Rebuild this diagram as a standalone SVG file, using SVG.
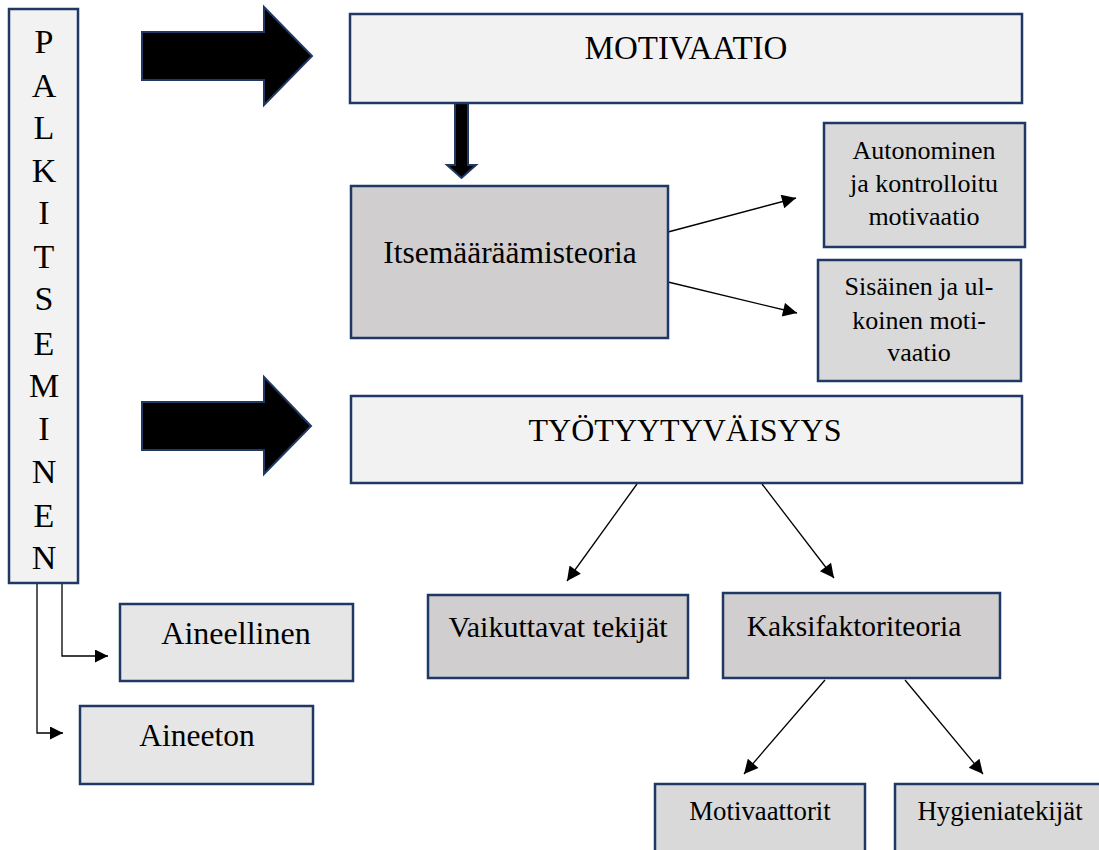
<svg xmlns="http://www.w3.org/2000/svg" width="1099" height="850" viewBox="0 0 1099 850">
<style>
.box{stroke:#1f3864;stroke-width:2.5}
.l1{fill:#f2f2f2}
.g1{fill:#d0cece}
.g2{fill:#d9d9d9}
.g3{fill:#e6e6e6}
text{font-family:"Liberation Serif","Times New Roman",serif;fill:#000;text-anchor:middle}
.big{stroke:#1f3864;stroke-width:2;fill:#000}
.con{stroke:#000;stroke-width:1.3;fill:none}
</style>
<defs>
<marker id="ah" viewBox="0 0 10 10" refX="10" refY="5" markerWidth="18" markerHeight="14" markerUnits="userSpaceOnUse" orient="auto">
<path d="M0,0 L10,5 L0,10 z" fill="#000"/>
</marker>
<marker id="ahs" viewBox="0 0 10 10" refX="10" refY="5" markerWidth="15" markerHeight="13" markerUnits="userSpaceOnUse" orient="auto">
<path d="M0,0 L10,5 L0,10 z" fill="#000"/>
</marker>
</defs>

<g id="connectors">
<polygon class="big" points="142,32 264,32 264,7 312,56 264,105 264,80 142,80"/>
<polygon class="big" points="142,402 264,402 264,377 311,426 264,474 264,450 142,450"/>
<polygon class="big" points="455,101 468,101 468,165 476,165 461.5,178 447,165 455,165"/>
<line class="con" x1="668" y1="232" x2="796" y2="198" marker-end="url(#ah)"/>
<line class="con" x1="668" y1="282" x2="797" y2="313" marker-end="url(#ah)"/>
<line class="con" x1="637" y1="484" x2="567" y2="581" marker-end="url(#ah)"/>
<line class="con" x1="762" y1="484" x2="834" y2="578" marker-end="url(#ah)"/>
<line class="con" x1="825" y1="680" x2="744" y2="774" marker-end="url(#ah)"/>
<line class="con" x1="905" y1="680" x2="983" y2="774" marker-end="url(#ah)"/>
<path class="con" d="M62,583 V656 H108" marker-end="url(#ahs)"/>
<path class="con" d="M37,583 V733 H63" marker-end="url(#ahs)"/>
</g>

<g id="palkitseminen">
<rect class="box l1" x="9" y="9" width="69" height="574"/>
<text x="44" y="53" font-size="34">P</text>
<text x="44" y="97" font-size="34">A</text>
<text x="44" y="139" font-size="34">L</text>
<text x="44" y="182" font-size="34">K</text>
<text x="44" y="224" font-size="34">I</text>
<text x="44" y="268" font-size="34">T</text>
<text x="44" y="310" font-size="34">S</text>
<text x="44" y="355" font-size="34">E</text>
<text x="44" y="397" font-size="34">M</text>
<text x="44" y="440" font-size="34">I</text>
<text x="44" y="483" font-size="34">N</text>
<text x="44" y="527" font-size="34">E</text>
<text x="44" y="569" font-size="34">N</text>
</g>

<g id="motivaatio">
<rect class="box l1" x="350" y="14" width="672" height="89"/>
<text x="686" y="59" font-size="33">MOTIVAATIO</text>
</g>

<g id="itsemaaraamisteoria">
<rect class="box g1" x="351" y="186" width="317" height="152"/>
<text x="510" y="263" font-size="31.5">Itsemääräämisteoria</text>
</g>

<g id="autonominen">
<rect class="box g2" x="824" y="123" width="201" height="124"/>
<text x="924" y="159" font-size="26">Autonominen</text>
<text x="924" y="192" font-size="26">ja kontrolloitu</text>
<text x="924" y="225" font-size="26">motivaatio</text>
</g>

<g id="sisainen">
<rect class="box g2" x="818" y="260" width="203" height="121"/>
<text x="919" y="295" font-size="26">Sisäinen ja ul-</text>
<text x="919" y="329" font-size="26">koinen moti-</text>
<text x="919" y="361" font-size="26">vaatio</text>
</g>

<g id="tyotyytyvaisyys">
<rect class="box l1" x="351" y="396" width="671" height="87"/>
<text x="685" y="441" font-size="32">TYÖTYYTYVÄISYYS</text>
</g>

<g id="vaikuttavat">
<rect class="box g1" x="428" y="595" width="260" height="83"/>
<text x="558" y="637" font-size="30">Vaikuttavat tekijät</text>
</g>

<g id="kaksifaktoriteoria">
<rect class="box g1" x="723" y="593" width="277" height="85"/>
<text x="854" y="636" font-size="29.5">Kaksifaktoriteoria</text>
</g>

<g id="aineellinen">
<rect class="box g3" x="120" y="604" width="233" height="77"/>
<text x="236" y="644" font-size="32">Aineellinen</text>
</g>

<g id="aineeton">
<rect class="box g3" x="80" y="706" width="233" height="78"/>
<text x="197" y="746" font-size="31.5">Aineeton</text>
</g>

<g id="motivaattorit">
<rect class="box g2" x="655" y="784" width="210" height="80"/>
<text x="760" y="820" font-size="26.8">Motivaattorit</text>
</g>

<g id="hygieniatekijat">
<rect class="box g2" x="895" y="784" width="215" height="80"/>
<text x="1000" y="820" font-size="26.8">Hygieniatekijät</text>
</g>
</svg>
